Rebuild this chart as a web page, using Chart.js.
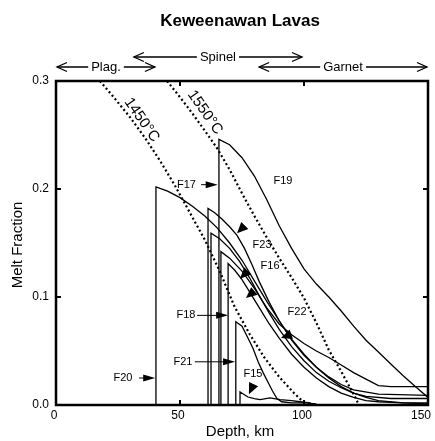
<!DOCTYPE html>
<html>
<head>
<meta charset="utf-8">
<script src="https://cdn.jsdelivr.net/npm/chart.js@4.4.1/dist/chart.umd.min.js"></script>
<style>
html, body { margin: 0; padding: 0; background: #fff; }
#wrap { width: 435px; height: 441px; position: relative; }
</style>
</head>
<body>
<div id="wrap"><canvas id="chart"></canvas></div>
<script>
const depthTicks = [0, 50, 100, 150];
const meltTicks = [0, 0.1, 0.2, 0.3];

// dotted adiabats
const adiabat1450Depth = [17.7, 24, 30, 36, 42, 48, 54, 60, 66, 72, 78, 84, 90, 96, 101];
const adiabat1450Melt = [0.300, 0.283, 0.266, 0.247, 0.226, 0.203, 0.178, 0.153, 0.124, 0.091, 0.066, 0.044, 0.026, 0.011, 0.0];
const adiabat1550Depth = [44.8, 50, 55, 60, 64.9, 70, 75, 80, 85, 90, 95, 100, 105, 110, 115, 120, 122.2];
const adiabat1550Melt = [0.300, 0.285, 0.270, 0.254, 0.238, 0.218, 0.196, 0.175, 0.155, 0.136, 0.118, 0.099, 0.076, 0.051, 0.031, 0.010, 0.0];

// melting columns (vertical start + melt path)
const f20Depth = [40.3, 40.3, 45, 50, 55, 60, 65, 70, 75, 80, 85, 90, 95, 100, 105, 110, 115, 120, 125, 130, 140, 150];
const f20Melt = [0, 0.202, 0.198, 0.192, 0.184, 0.175, 0.164, 0.150, 0.134, 0.115, 0.096, 0.078, 0.061, 0.047, 0.035, 0.025, 0.017, 0.011, 0.007, 0.004, 0.002, 0.001];
const f23Depth = [61.3, 61.3, 64, 67, 70, 73, 76, 79, 82, 86, 90, 95, 100, 105, 110, 115, 120, 130, 150];
const f23Melt = [0, 0.182, 0.178, 0.172, 0.165, 0.157, 0.145, 0.130, 0.114, 0.095, 0.078, 0.060, 0.046, 0.035, 0.026, 0.019, 0.014, 0.010, 0.009];
const f16Depth = [62.5, 62.5, 66, 70, 74, 78, 82, 86, 90, 95, 100, 105, 110, 115, 120, 125, 135, 150];
const f16Melt = [0, 0.159, 0.154, 0.145, 0.133, 0.118, 0.101, 0.085, 0.070, 0.054, 0.041, 0.030, 0.022, 0.016, 0.011, 0.008, 0.006, 0.006];
const f19Depth = [65.7, 65.7, 70, 75, 80, 85, 90, 95, 100, 105, 110, 115, 120, 125, 130, 135, 140, 145, 150];
const f19Melt = [0, 0.246, 0.241, 0.229, 0.212, 0.190, 0.166, 0.145, 0.126, 0.112, 0.100, 0.087, 0.073, 0.060, 0.049, 0.038, 0.027, 0.017, 0.007];
const f22Depth = [66.5, 66.5, 70, 75, 80, 85, 90, 95, 100, 105, 110, 115, 120, 125, 130, 135, 150];
const f22Melt = [0, 0.142, 0.136, 0.124, 0.108, 0.090, 0.075, 0.065, 0.057, 0.050, 0.044, 0.037, 0.030, 0.024, 0.018, 0.017, 0.017];
const f18Depth = [69.4, 69.4, 72, 75, 78, 82, 86, 90, 95, 100, 105, 110, 115, 120, 125, 130, 140, 150];
const f18Melt = [0, 0.131, 0.125, 0.116, 0.105, 0.090, 0.075, 0.062, 0.047, 0.035, 0.025, 0.017, 0.011, 0.007, 0.004, 0.003, 0.002, 0.002];
const f21Depth = [72.5, 72.5, 75, 77.4, 79.5, 81.5, 83.5, 85.5, 87.3, 89.1, 91, 95, 100, 105];
const f21Melt = [0, 0.077, 0.073, 0.062, 0.052, 0.040, 0.030, 0.021, 0.013, 0.006, 0.003, 0.002, 0.002, 0.001];
const f15Depth = [74.2, 74.2, 77.4, 80, 82.3, 86.3, 90.3, 95, 98.4, 102.4, 103.6];
const f15Melt = [0, 0.012, 0.0074, 0.006, 0.005, 0.0065, 0.005, 0.004, 0.003, 0.002, 0];

// labels, in data units
const plainLabels = [
  ['F19', 91.5, 0.207], ['F23', 83.1, 0.148], ['F16', 86.3, 0.129],
  ['F22', 97.2, 0.086], ['F15', 79.4, 0.029]
];
// [text, textDepth, melt, arrowFrom, arrowTo]
const arrowLabels = [
  ['F17', 52.6, 0.204, 58.5, 65.2],
  ['F18', 52.4, 0.083, 56.9, 69.4],
  ['F21', 51.2, 0.040, 56.0, 72.2],
  ['F20', 27.0, 0.025, 33.5, 40.0]
];
// loose arrowheads: tip depth, tip melt, pointing angle (deg, screen)
const pointers = [
  [73.0, 0.159, 135], [74.2, 0.117, 135], [76.6, 0.099, 140],
  [90.7, 0.062, 160], [77.8, 0.010, 115]
];
const zones = [['Plag.', 0, 40.3, 67], ['Spinel', 31, 99.6, 57], ['Garnet', 81.5, 150, 67]];
const tempLabels = [['1450°C', 34.6, 0.264], ['1550°C', 60.1, 0.271]];

const FONT = '"Liberation Sans", Arial, Helvetica, sans-serif';

const columns = [
  [f20Depth, f20Melt], [f23Depth, f23Melt], [f16Depth, f16Melt], [f19Depth, f19Melt],
  [f22Depth, f22Melt], [f18Depth, f18Melt], [f21Depth, f21Melt], [f15Depth, f15Melt]
];

const toXY = (xs, ys) => xs.map((x, i) => ({ x: x, y: ys[i] }));

let datasets = [
  { data: toXY(adiabat1450Depth, adiabat1450Melt), borderDash: [2, 2.6], borderWidth: 2.2 },
  { data: toXY(adiabat1550Depth, adiabat1550Melt), borderDash: [2, 2.6], borderWidth: 2.2 }
];
columns.forEach(c => {
  datasets.push({ data: toXY(c[0], c[1]), borderWidth: 1.3 });
});
datasets.forEach(d => {
  d.showLine = true;
  d.pointRadius = 0;
  d.borderColor = '#000';
  d.tension = 0;
  d.fill = false;
});

function tri(ctx, x, y, ang, len, half) {
  let dx = Math.cos(ang), dy = Math.sin(ang);
  let bx = x - dx * len, by = y - dy * len;
  ctx.beginPath();
  ctx.moveTo(x, y);
  ctx.lineTo(bx - dy * half, by + dx * half);
  ctx.lineTo(bx + dy * half, by - dx * half);
  ctx.closePath();
  ctx.fill();
}

function chevron(ctx, x, y, dir) {
  ctx.beginPath();
  ctx.moveTo(x - dir * 10, y - 4.5);
  ctx.lineTo(x, y);
  ctx.lineTo(x - dir * 10, y + 4.5);
  ctx.stroke();
}

const decor = {
  id: 'decor',
  afterDraw(chart) {
    const ctx = chart.ctx;
    const a = chart.chartArea;
    const xs = chart.scales.x, ys = chart.scales.y;
    ctx.save();
    ctx.strokeStyle = '#000';
    ctx.fillStyle = '#000';

    // frame
    ctx.lineWidth = 2.5;
    ctx.strokeRect(a.left, a.top, a.right - a.left, a.bottom - a.top);

    // inner ticks
    ctx.lineWidth = 2;
    depthTicks.slice(1, -1).forEach(v => {
      let px = xs.getPixelForValue(v);
      ctx.beginPath();
      ctx.moveTo(px, a.bottom); ctx.lineTo(px, a.bottom - 5);
      ctx.moveTo(px, a.top); ctx.lineTo(px, a.top + 5);
      ctx.stroke();
    });
    meltTicks.slice(1, -1).forEach(v => {
      let py = ys.getPixelForValue(v);
      ctx.beginPath();
      ctx.moveTo(a.left, py); ctx.lineTo(a.left + 5, py);
      ctx.moveTo(a.right, py); ctx.lineTo(a.right - 5, py);
      ctx.stroke();
    });

    // depth tick labels (last one kept inside the page)
    ctx.textAlign = 'center';
    ctx.textBaseline = 'top';
    ctx.font = '12px ' + FONT;
    depthTicks.forEach(v => {
      let t = String(v);
      let half = ctx.measureText(t).width / 2;
      let cx = Math.min(xs.getPixelForValue(v) - 2, chart.width - 4 - half);
      ctx.fillText(t, cx, a.bottom + 5);
    });

    // title and axis titles
    ctx.textBaseline = 'middle';
    ctx.font = 'bold 17px ' + FONT;
    ctx.fillText('Keweenawan Lavas', 240, 21);
    ctx.font = '15px ' + FONT;
    ctx.fillText('Depth, km', 240, 432);
    ctx.save();
    ctx.translate(18, 245);
    ctx.rotate(-Math.PI / 2);
    ctx.fillText('Melt Fraction', 0, 0);
    ctx.restore();

    // mineral zones
    ctx.font = '13px ' + FONT;
    ctx.lineWidth = 1.3;
    zones.forEach(z => {
      let x0 = xs.getPixelForValue(z[1]) + 1, x1 = xs.getPixelForValue(z[2]) - 1;
      let y = z[3];
      let cx = (x0 + x1) / 2;
      let w = ctx.measureText(z[0]).width / 2 + 3;
      ctx.fillText(z[0], cx, y);
      ctx.beginPath();
      ctx.moveTo(x0, y); ctx.lineTo(cx - w, y);
      ctx.moveTo(cx + w, y); ctx.lineTo(x1, y);
      ctx.stroke();
      chevron(ctx, x0, y, -1);
      chevron(ctx, x1, y, 1);
    });

    // adiabat labels
    ctx.font = '15px ' + FONT;
    tempLabels.forEach(t => {
      ctx.save();
      ctx.translate(xs.getPixelForValue(t[1]), ys.getPixelForValue(t[2]));
      ctx.rotate(55 * Math.PI / 180);
      ctx.fillText(t[0], 0, 0);
      ctx.restore();
    });

    // column labels
    ctx.font = '11px ' + FONT;
    plainLabels.forEach(l => {
      ctx.fillText(l[0], xs.getPixelForValue(l[1]), ys.getPixelForValue(l[2]));
    });
    ctx.lineWidth = 1;
    arrowLabels.forEach(l => {
      let py = ys.getPixelForValue(l[2]);
      let x0 = xs.getPixelForValue(l[3]), x1 = xs.getPixelForValue(l[4]);
      ctx.fillText(l[0], xs.getPixelForValue(l[1]), py);
      ctx.beginPath();
      ctx.moveTo(x0, py); ctx.lineTo(x1 - 8, py);
      ctx.stroke();
      tri(ctx, x1, py, 0, 12, 3.5);
    });
    pointers.forEach(p => {
      tri(ctx, xs.getPixelForValue(p[0]), ys.getPixelForValue(p[1]), p[2] * Math.PI / 180, 11, 5);
    });
    ctx.restore();
  }
};

new Chart(document.getElementById('chart'), {
  type: 'scatter',
  data: { datasets: datasets },
  options: {
    responsive: true,
    maintainAspectRatio: false,
    animation: false,
    layout: { padding: { top: 81, right: 7, left: 0, bottom: 0 } },
    plugins: { legend: { display: false }, tooltip: { enabled: false } },
    scales: {
      x: {
        type: 'linear', min: 0, max: 150,
        afterBuildTicks: s => { s.ticks = depthTicks.map(v => ({ value: v })); },
        afterFit: s => { s.height = 36; s.paddingLeft = 0; s.paddingRight = 0; },
        ticks: { display: false },
        grid: { display: false, drawTicks: false },
        border: { display: false }
      },
      y: {
        type: 'linear', min: 0, max: 0.3,
        afterBuildTicks: s => { s.ticks = meltTicks.map(v => ({ value: v })); },
        afterFit: s => { s.width = 56; s.paddingTop = 0; s.paddingBottom = 0; },
        ticks: { color: '#000', font: { size: 12, family: FONT }, padding: 7, callback: v => v.toFixed(1) },
        grid: { display: false, drawTicks: false },
        border: { display: false }
      }
    }
  },
  plugins: [decor]
});
</script>
</body>
</html>
